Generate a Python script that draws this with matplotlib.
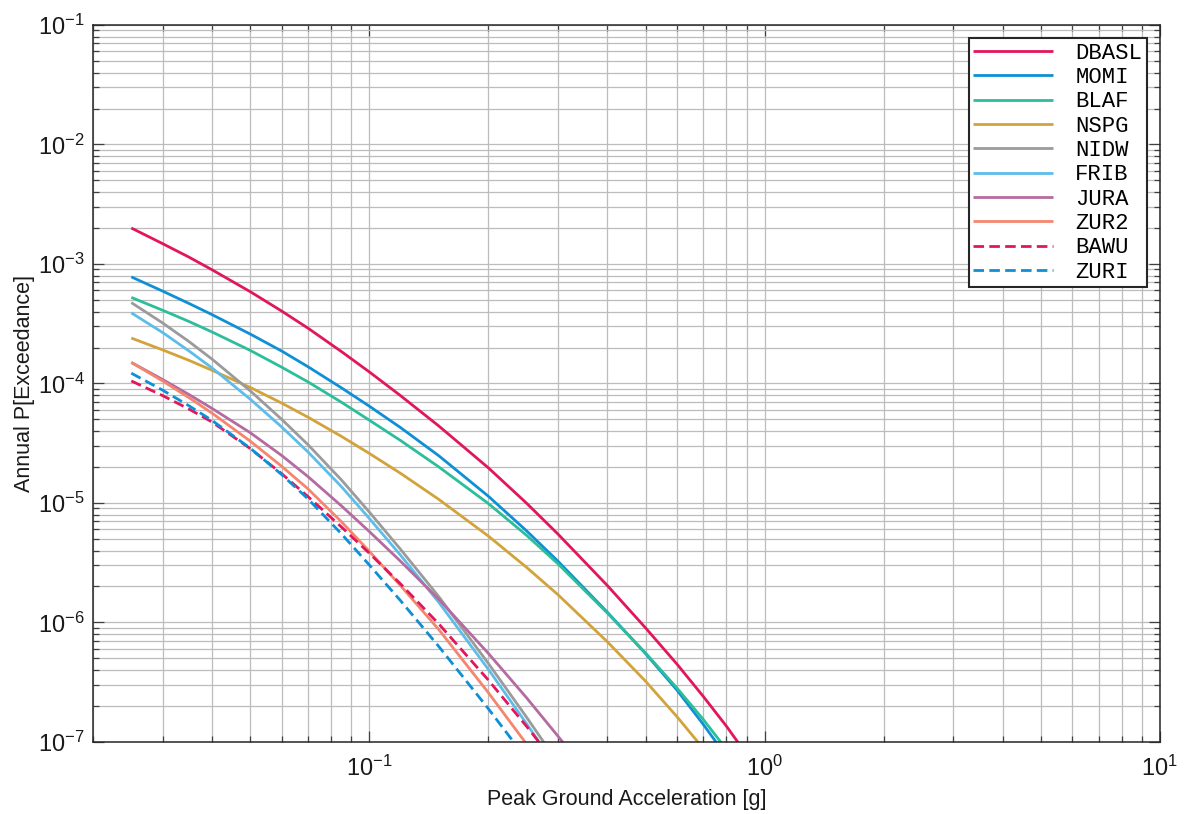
import matplotlib
matplotlib.use("Agg")
import matplotlib.pyplot as plt
from matplotlib.ticker import LogLocator, NullFormatter

plt.rcParams['font.family'] = ['Liberation Sans', 'DejaVu Sans']
plt.rcParams['mathtext.default'] = 'regular'

# ---- data ----
names = ["DBASL", "MOMI", "BLAF", "NSPG", "NIDW", "FRIB", "JURA", "ZUR2", "BAWU", "ZURI"]

x_dbasl = [0.025, 0.03, 0.035, 0.04, 0.05, 0.06, 0.07, 0.085, 0.1, 0.12, 0.15, 0.2, 0.25, 0.3, 0.4, 0.5, 0.6, 0.7, 0.8, 0.9]
y_dbasl = [2.0e-3, 1.48e-3, 1.14e-3, 8.95e-4, 5.86e-4, 4.04e-4, 2.90e-4, 1.85e-4, 1.25e-4, 7.9e-5, 4.4e-5, 1.97e-5, 9.95e-6, 5.5e-6, 2.04e-6, 9.0e-7, 4.49e-7, 2.4e-7, 1.36e-7, 7.9e-8]

x_momi = [0.025, 0.03, 0.035, 0.04, 0.05, 0.06, 0.07, 0.085, 0.1, 0.12, 0.15, 0.2, 0.25, 0.3, 0.4, 0.5, 0.6, 0.7, 0.8]
y_momi = [7.8e-4, 5.93e-4, 4.67e-4, 3.77e-4, 2.59e-4, 1.87e-4, 1.38e-4, 9.2e-5, 6.46e-5, 4.27e-5, 2.48e-5, 1.14e-5, 5.84e-6, 3.26e-6, 1.22e-6, 5.48e-7, 2.72e-7, 1.40e-7, 7.6e-8]

x_blaf = [0.025, 0.03, 0.035, 0.04, 0.05, 0.06, 0.07, 0.085, 0.1, 0.12, 0.15, 0.2, 0.25, 0.3, 0.4, 0.5, 0.6, 0.7, 0.8]
y_blaf = [5.25e-4, 4.10e-4, 3.30e-4, 2.70e-4, 1.89e-4, 1.37e-4, 1.03e-4, 6.97e-5, 4.93e-5, 3.33e-5, 2.0e-5, 9.9e-6, 5.36e-6, 3.10e-6, 1.20e-6, 5.55e-7, 2.83e-7, 1.54e-7, 8.7e-8]

x_nspg = [0.025, 0.03, 0.035, 0.04, 0.05, 0.06, 0.07, 0.085, 0.1, 0.12, 0.15, 0.2, 0.25, 0.3, 0.4, 0.5, 0.6, 0.7]
y_nspg = [2.4e-4, 1.91e-4, 1.56e-4, 1.29e-4, 9.26e-5, 6.86e-5, 5.22e-5, 3.61e-5, 2.60e-5, 1.77e-5, 1.07e-5, 5.29e-6, 2.89e-6, 1.71e-6, 6.9e-7, 3.22e-7, 1.63e-7, 8.8e-8]

x_nidw = [0.025, 0.03, 0.035, 0.04, 0.05, 0.06, 0.07, 0.085, 0.1, 0.12, 0.15, 0.2, 0.25, 0.3]
y_nidw = [4.75e-4, 3.21e-4, 2.24e-4, 1.60e-4, 8.67e-5, 5.02e-5, 3.07e-5, 1.56e-5, 8.4e-6, 4.09e-6, 1.64e-6, 4.55e-7, 1.61e-7, 6.7e-8]

x_frib = [0.025, 0.03, 0.035, 0.04, 0.05, 0.06, 0.07, 0.085, 0.1, 0.12, 0.15, 0.2, 0.25, 0.3]
y_frib = [3.90e-4, 2.67e-4, 1.87e-4, 1.35e-4, 7.38e-5, 4.33e-5, 2.67e-5, 1.37e-5, 7.43e-6, 3.65e-6, 1.47e-6, 4.06e-7, 1.42e-7, 5.9e-8]

x_jura = [0.025, 0.03, 0.035, 0.04, 0.05, 0.06, 0.07, 0.085, 0.1, 0.12, 0.15, 0.2, 0.25, 0.3, 0.35]
y_jura = [1.5e-4, 1.08e-4, 8.07e-5, 6.19e-5, 3.87e-5, 2.50e-5, 1.66e-5, 9.46e-6, 5.77e-6, 3.25e-6, 1.56e-6, 5.52e-7, 2.34e-7, 1.12e-7, 5.9e-8]

x_zur2 = [0.025, 0.03, 0.035, 0.04, 0.05, 0.06, 0.07, 0.085, 0.1, 0.12, 0.15, 0.2, 0.25]
y_zur2 = [1.5e-4, 1.05e-4, 7.6e-5, 5.65e-5, 3.29e-5, 2.03e-5, 1.31e-5, 6.97e-6, 3.94e-6, 2.03e-6, 8.7e-7, 2.59e-7, 9.6e-8]

x_bawu = [0.025, 0.03, 0.035, 0.04, 0.05, 0.06, 0.07, 0.085, 0.1, 0.12, 0.15, 0.2, 0.25, 0.3]
y_bawu = [1.05e-4, 7.92e-5, 6.1e-5, 4.76e-5, 2.85e-5, 1.76e-5, 1.13e-5, 6.3e-6, 3.8e-6, 2.1e-6, 9.7e-7, 3.3e-7, 1.35e-7, 6.3e-8]

x_zuri = [0.025, 0.03, 0.035, 0.04, 0.05, 0.06, 0.07, 0.085, 0.1, 0.12, 0.15, 0.2, 0.25]
y_zuri = [1.22e-4, 8.79e-5, 6.5e-5, 4.91e-5, 2.87e-5, 1.73e-5, 1.08e-5, 5.52e-6, 3.03e-6, 1.52e-6, 6.28e-7, 1.9e-7, 7.2e-8]

series_x = [x_dbasl, x_momi, x_blaf, x_nspg, x_nidw, x_frib, x_jura, x_zur2, x_bawu, x_zuri]
series_y = [y_dbasl, y_momi, y_blaf, y_nspg, y_nidw, y_frib, y_jura, y_zur2, y_bawu, y_zuri]

colors = ["#E2165B", "#0E8FD6", "#2CBE9B", "#D3A33B", "#9B9B9B",
          "#5DBDEA", "#B46BA0", "#F4866F", "#E2165B", "#0E8FD6"]
styles = ["-", "-", "-", "-", "-", "-", "-", "-", (0, (3.8, 1.9)), (0, (3.8, 1.9))]

xlim = (0.02, 10)
ylim = (1e-7, 1e-1)

# ---- figure ----
fig = plt.figure(figsize=(11.86, 8.14), dpi=100)
ax = fig.add_axes([0.0784, 0.0885, 0.8996, 0.8808])

for xs, ys, c, ls, n in zip(series_x, series_y, colors, styles, names):
    ax.plot(xs, ys, color=c, linestyle=ls, linewidth=2.0, label=n,
            solid_joinstyle='round', solid_capstyle='butt')

ax.set_xscale('log')
ax.set_yscale('log')
ax.set_xlim(*xlim)
ax.set_ylim(*ylim)

ax.xaxis.set_major_locator(LogLocator(base=10, numticks=20))
ax.xaxis.set_minor_locator(LogLocator(base=10, subs=range(2, 10), numticks=100))
ax.yaxis.set_major_locator(LogLocator(base=10, numticks=20))
ax.yaxis.set_minor_locator(LogLocator(base=10, subs=range(2, 10), numticks=100))
ax.xaxis.set_minor_formatter(NullFormatter())
ax.yaxis.set_minor_formatter(NullFormatter())
ax.xaxis.get_offset_text().set_visible(False)
ax.yaxis.get_offset_text().set_visible(False)

ax.grid(True, which='major', color='#bcbcbc', linewidth=0.9)
ax.grid(True, which='minor', color='#bcbcbc', linewidth=0.9)
ax.set_axisbelow(True)

ax.tick_params(which='both', direction='in', top=True, right=True, colors='#404040',
               labelcolor='#1a1a1a')
ax.tick_params(which='major', length=8, width=0.9, labelsize=17)
ax.tick_params(axis='x', which='major', pad=10)
ax.tick_params(axis='y', which='major', pad=6)
ax.tick_params(which='minor', length=4, width=0.9)
for s in ax.spines.values():
    s.set_color('#262626')
    s.set_linewidth(1.1)

ax.set_xlabel('Peak Ground Acceleration [g]', fontsize=15.5, color='#1a1a1a', labelpad=6)
ax.set_ylabel('Annual P[Exceedance]', fontsize=15.5, color='#1a1a1a', labelpad=2)

leg = ax.legend(loc='upper right', prop={'family': ['Liberation Mono'], 'size': 16},
                frameon=True, fancybox=False, edgecolor='#262626', framealpha=1,
                handlelength=3.6, handletextpad=1.0, labelspacing=0.15,
                borderaxespad=0.6, borderpad=0.2)
leg.get_frame().set_linewidth(1.5)

fig.savefig('out.png', dpi=100)
